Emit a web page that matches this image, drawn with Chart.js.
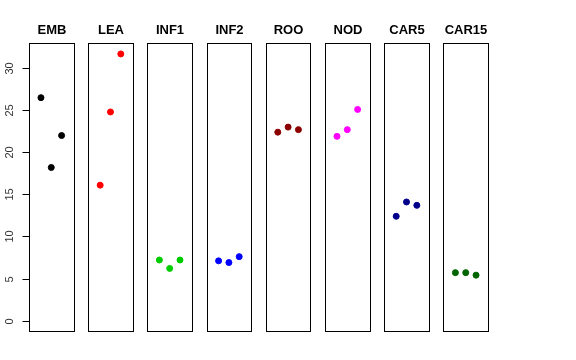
<!DOCTYPE html>
<html>
<head>
<meta charset="utf-8">
<script src="https://cdn.jsdelivr.net/npm/chart.js@4/dist/chart.umd.min.js"></script>
<style>
  html, body { margin: 0; padding: 0; background: #fff; }
</style>
</head>
<body>
<canvas id="myChart" width="576" height="360"></canvas>
<script>
// panel names and colours
var groups = ['EMB', 'LEA', 'INF1', 'INF2', 'ROO', 'NOD', 'CAR5', 'CAR15'];
var colors = ['#000000', '#FF0000', '#00CD00', '#0000FF', '#8B0000', '#FF00FF', '#00008B', '#006400'];

// three replicate values per panel
var emb = [26.5, 18.2, 22.0];
var lea = [16.1, 24.8, 31.7];
var inf1 = [7.2, 6.2, 7.2];
var inf2 = [7.1, 6.9, 7.6];
var roo = [22.4, 23.0, 22.7];
var nod = [21.9, 22.7, 25.1];
var car5 = [12.4, 14.1, 13.7];
var car15 = [5.7, 5.7, 5.4];
var values = [emb, lea, inf1, inf2, roo, nod, car5, car15];

var yTicks = [0, 5, 10, 15, 20, 25, 30];

// each panel spans x = 0..4 (plus R's 4% pad), panels placed side by side
var pitch = 5.74;
var padX = 0.16;

var datasets = groups.map(function (g, i) {
    return {
        label: g,
        data: values[i].map(function (v, j) { return { x: i * pitch + j + 1, y: v }; }),
        backgroundColor: colors[i],
        borderColor: colors[i],
        pointRadius: 3,
        pointHoverRadius: 3,
        showLine: false
    };
});

var panels = {
    id: 'panels',
    afterDraw: function (chart) {
        var c = chart.ctx;
        var xs = chart.scales.x, ys = chart.scales.y;
        var top = chart.chartArea.top, bottom = chart.chartArea.bottom;
        c.save();
        c.strokeStyle = '#000';
        c.lineWidth = 1;
        c.fillStyle = '#000';
        groups.forEach(function (g, i) {
            var l = Math.round(xs.getPixelForValue(i * pitch - padX)) + 0.5;
            var r = Math.round(xs.getPixelForValue(i * pitch + 4 + padX)) + 0.5;
            c.strokeRect(l, Math.round(top) + 0.5, r - l, Math.round(bottom - top));
            c.font = 'bold 13px "Liberation Sans", Arial, sans-serif';
            c.textAlign = 'center';
            c.textBaseline = 'middle';
            c.fillText(g, (l + r) / 2, 30);
        });
        // y axis, R style, on the left edge of the first panel
        var ax = Math.round(xs.getPixelForValue(-padX)) + 0.5;
        c.beginPath();
        c.moveTo(ax, Math.round(ys.getPixelForValue(yTicks[0])) + 0.5);
        c.lineTo(ax, Math.round(ys.getPixelForValue(yTicks[yTicks.length - 1])) + 0.5);
        c.stroke();
        c.font = '11px "Liberation Sans", Arial, sans-serif';
        yTicks.forEach(function (t) {
            var py = Math.round(ys.getPixelForValue(t)) + 0.5;
            c.beginPath();
            c.moveTo(ax, py);
            c.lineTo(ax - 7, py);
            c.stroke();
            c.save();
            c.translate(ax - 20, py);
            c.rotate(-Math.PI / 2);
            c.fillStyle = '#333';
            c.textAlign = 'center';
            c.textBaseline = 'middle';
            c.fillText(String(t), 0, 0);
            c.restore();
        });
        c.restore();
    }
};

var ctx = document.getElementById('myChart').getContext('2d');
var myChart = new Chart(ctx, {
    type: 'scatter',
    data: { datasets: datasets },
    options: {
        responsive: false,
        animation: false,
        layout: { padding: { left: 29, right: 88, top: 43, bottom: 29 } },
        plugins: {
            legend: { display: false },
            tooltip: { enabled: false }
        },
        scales: {
            x: { type: 'linear', display: false, min: -padX, max: 7 * pitch + 4 + padX },
            y: { type: 'linear', display: false, min: -1.24, max: 33.0 }
        }
    },
    plugins: [panels]
});
</script>
</body>
</html>
